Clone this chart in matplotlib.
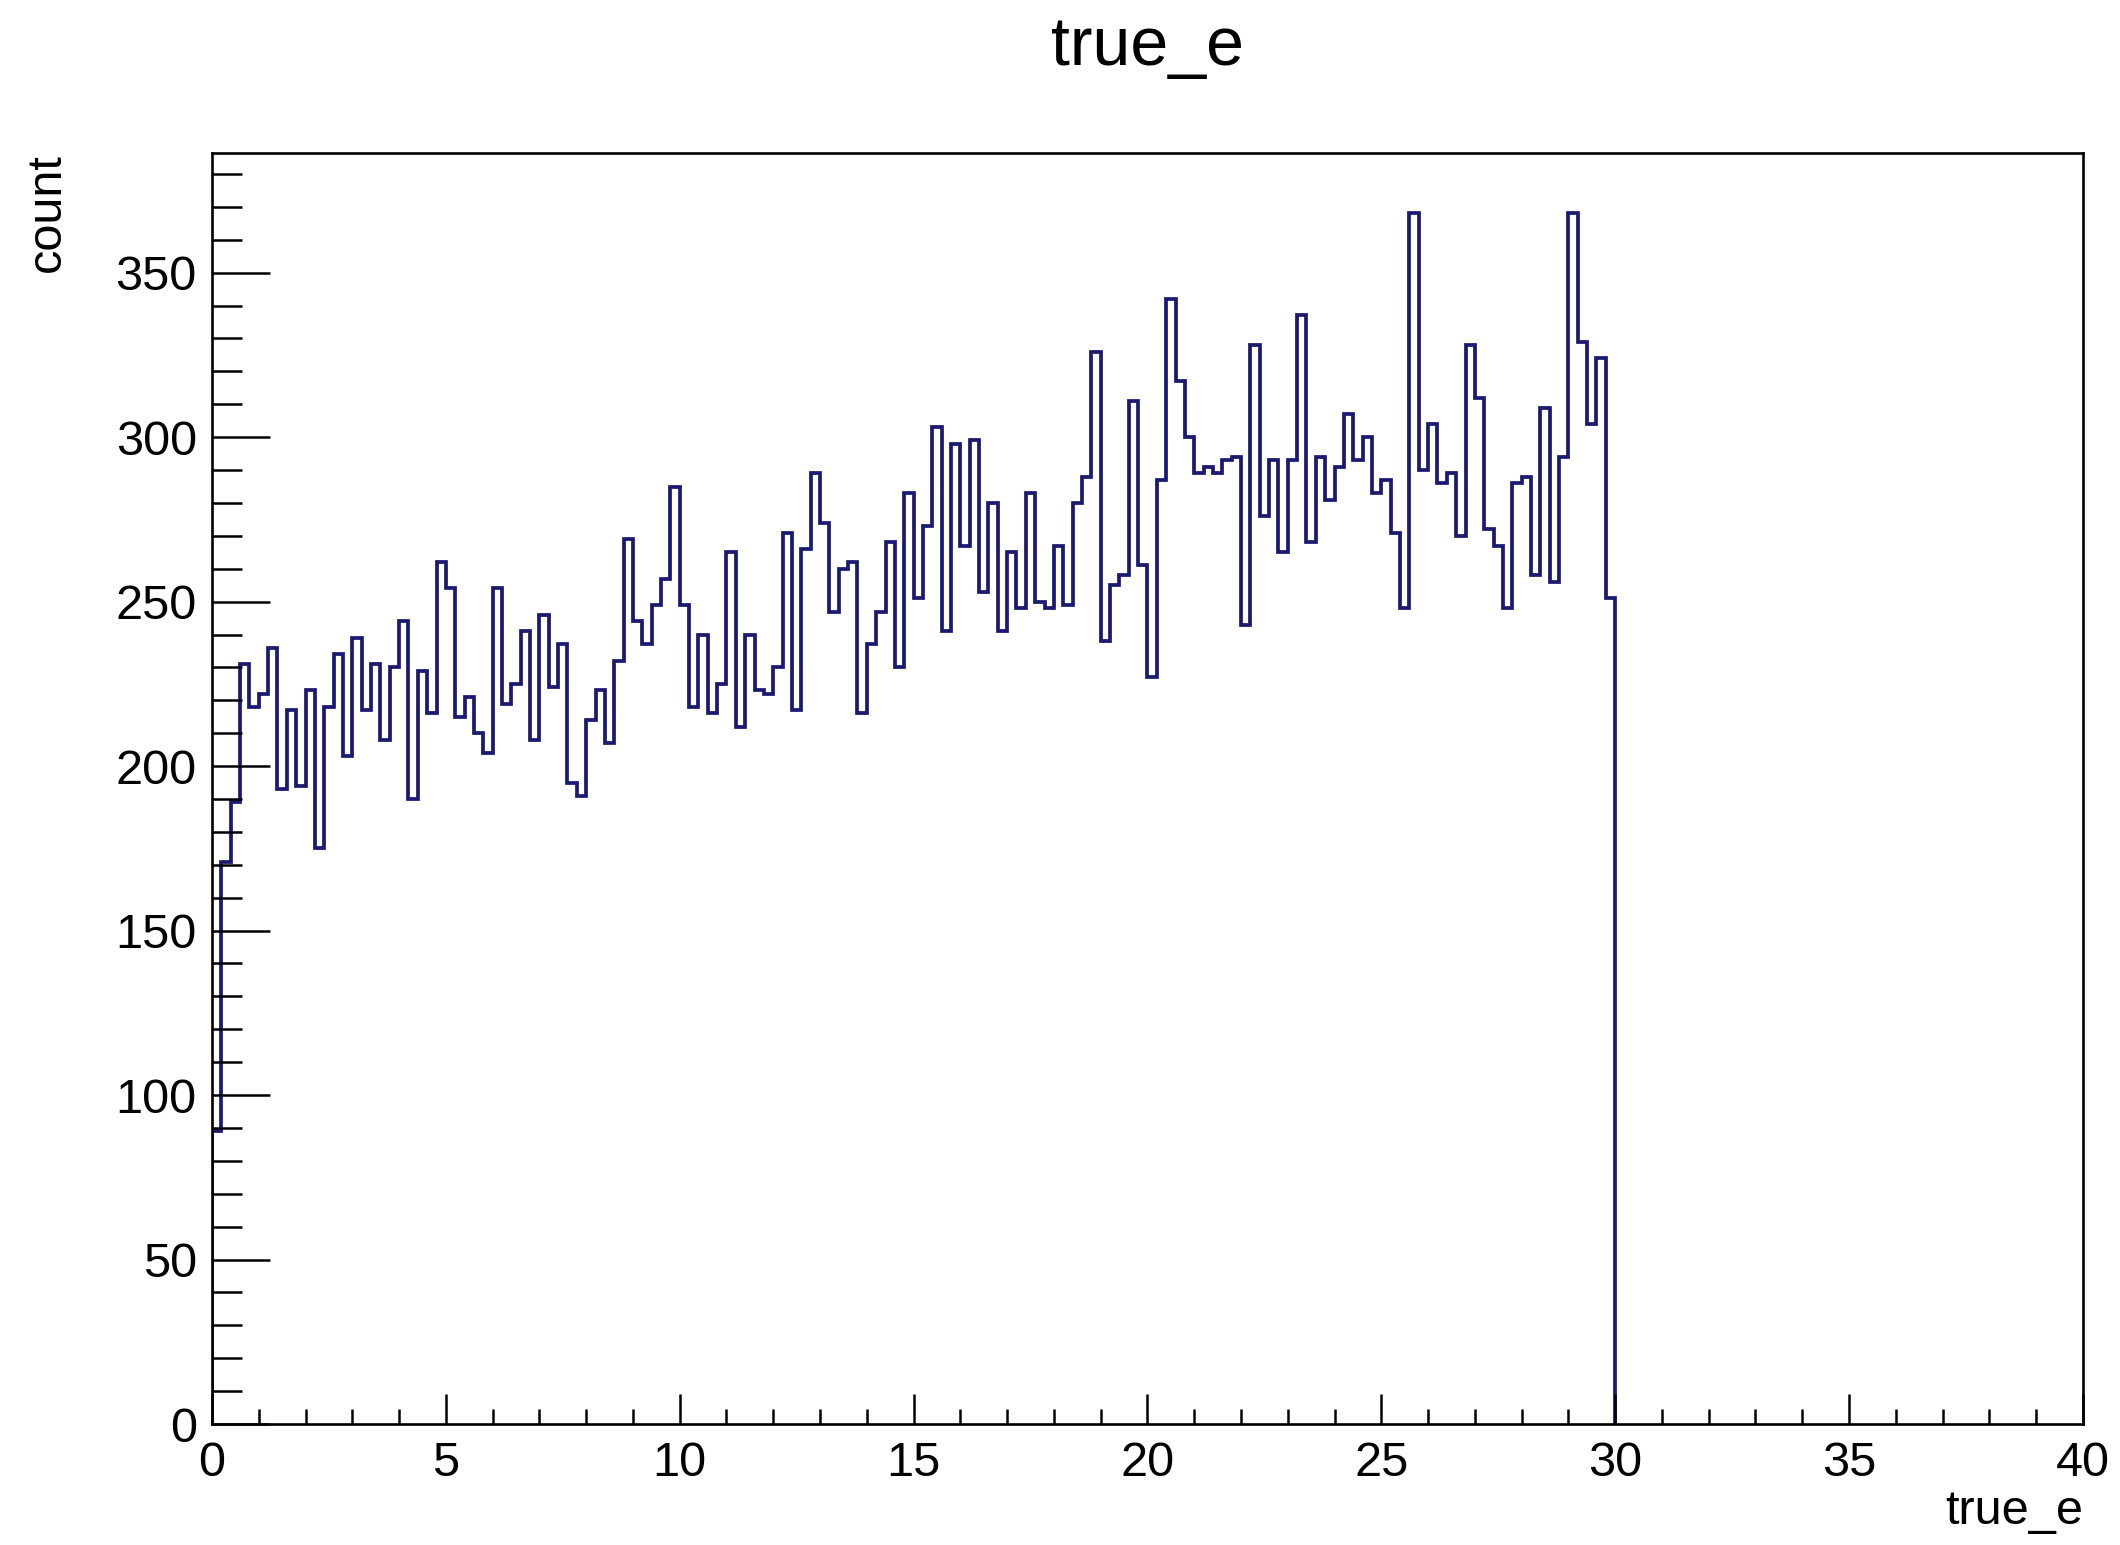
import numpy as np
import matplotlib.pyplot as plt
from matplotlib.ticker import MultipleLocator

plt.rcParams['font.family'] = ['Liberation Sans', 'DejaVu Sans']

# histogram of true_e: 150 bins of width 0.2 from 0 to 30
bin_lo = 0.0
bin_hi = 30.0
counts = [89, 171, 189, 231, 218, 222, 236, 193, 217, 194,
          223, 175, 218, 234, 203, 239, 217, 231, 208, 230,
          244, 190, 229, 216, 262, 254, 215, 221, 210, 204,
          254, 219, 225, 241, 208, 246, 224, 237, 195, 191,
          214, 223, 207, 232, 269, 244, 237, 249, 257, 285,
          249, 218, 240, 216, 225, 265, 212, 240, 223, 222,
          230, 271, 217, 266, 289, 274, 247, 260, 262, 216,
          237, 247, 268, 230, 283, 251, 273, 303, 241, 298,
          267, 299, 253, 280, 241, 265, 248, 283, 250, 248,
          267, 249, 280, 288, 326, 238, 255, 258, 311, 261,
          227, 287, 342, 317, 300, 289, 291, 289, 293, 294,
          243, 328, 276, 293, 265, 293, 337, 268, 294, 281,
          291, 307, 293, 300, 283, 287, 271, 248, 368, 290,
          304, 286, 289, 270, 328, 312, 272, 267, 248, 286,
          288, 258, 309, 256, 294, 368, 329, 304, 324, 251]
x_ticks = [0, 5, 10, 15, 20, 25, 30, 35, 40]
y_ticks = [0, 50, 100, 150, 200, 250, 300, 350]

edges = np.linspace(bin_lo, bin_hi, len(counts) + 1)

fig = plt.figure(figsize=(21.2, 15.45), dpi=100)
ax = fig.add_axes([0.1, 0.0783, 0.8825, 0.8227])

ax.stairs(counts, edges, baseline=0, color='#1a1a72', linewidth=2.7)

ax.set_xlim(0, 40)
ax.set_ylim(0, 1.05 * max(counts))

ax.set_xticks(x_ticks)
ax.set_yticks(y_ticks)
ax.xaxis.set_minor_locator(MultipleLocator(1))
ax.yaxis.set_minor_locator(MultipleLocator(10))

ax.tick_params(axis='both', which='both', direction='in', top=False, right=False,
               labelsize=35, width=1.8, color='black')
ax.tick_params(axis='x', which='major', length=21.5, pad=12)
ax.tick_params(axis='x', which='minor', length=10.8)
ax.tick_params(axis='y', which='major', length=42, pad=11)
ax.tick_params(axis='y', which='minor', length=21.5)

for s in ax.spines.values():
    s.set_linewidth(1.9)

pos = ax.get_position()
fig.text((pos.x0 + pos.x1) / 2, 1 - 47 / 1545, 'true_e', ha='center', va='center', fontsize=49)
fig.text(pos.x1, 1 - 1512 / 1545, 'true_e', ha='right', va='center', fontsize=35)
fig.text(47 / 2120, pos.y1, 'count', ha='center', va='top', rotation=90, fontsize=35)

fig.savefig('out.png', dpi=100)
